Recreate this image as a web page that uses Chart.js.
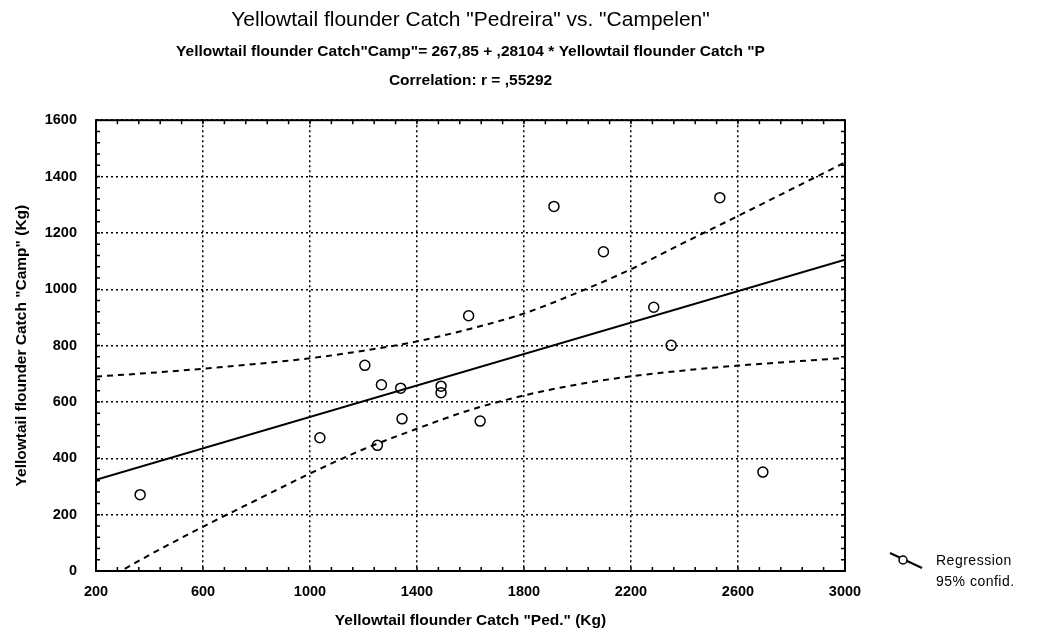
<!DOCTYPE html>
<html lang="en">
<head>
    <meta charset="UTF-8">
    <title>Yellowtail flounder Catch</title>
    <script src="https://cdn.jsdelivr.net/npm/chart.js"></script>
    <style>
        body { margin: 0; background: #fff; }
        #wrap { position: relative; width: 1039px; height: 639px; }
        #legend {
            position: absolute; left: 889px; top: 550px;
            font: 14px "Liberation Sans", Arial, sans-serif; color: #000;
            letter-spacing: 0.5px;
        }
        #legend svg { position: absolute; left: 0; top: 2px; }
        #legend div { margin-left: 47px; line-height: 21px; }
    </style>
</head>
<body>
<div id="wrap">
    <canvas id="chart" width="1039" height="639"></canvas>
    <div id="legend">
        <svg width="36" height="20"><line x1="1" y1="1" x2="33" y2="16" stroke="#000" stroke-width="2"/><circle cx="14" cy="8" r="4" fill="#fff" stroke="#000" stroke-width="1.5"/></svg>
        <div>Regression</div>
        <div>95% confid.</div>
    </div>
</div>
<script>
    // observed catches (kg)
    const pedCatch  = [365, 1037, 1205, 1267, 1339, 1344, 1252, 1490, 1490, 1636, 1593, 1912, 2097, 2532, 2285, 2350, 2693];
    const campCatch = [271, 473, 730, 661, 649, 540, 446, 656, 633, 532, 906, 1294, 1133, 1325, 936, 801, 351];

    // regression line ends
    const regX = [200, 3000];
    const regY = [324, 1105];

    // 95% confidence band
    const bandX     = [200, 400, 600, 800, 1000, 1200, 1400, 1600, 1800, 2000, 2200, 2400, 2600, 2800, 3000];
    const bandUpper = [690, 703, 718, 735, 755, 782, 815, 860, 914, 988, 1071, 1166, 1260, 1355, 1450];
    const bandLower = [-50, 57, 157, 252, 346, 432, 505, 572, 623, 662, 691, 712, 729, 743, 756];

    const xTicks = [200, 600, 1000, 1400, 1800, 2200, 2600, 3000];
    const yTicks = [0, 200, 400, 600, 800, 1000, 1200, 1400, 1600];

    const FONT = '"Liberation Sans", Arial, sans-serif';

    const pts = (xs, ys) => xs.map((x, i) => ({x: x, y: ys[i]}));

    // frame + small inward ticks
    const framePlugin = {
        id: 'frame',
        afterDraw(chart) {
            const {ctx, chartArea: a, scales: {x, y}} = chart;
            ctx.save();
            ctx.strokeStyle = '#000';
            ctx.lineWidth = 1.5;
            ctx.beginPath();
            for (let v = 200; v <= 3000; v += 80) {
                const px = x.getPixelForValue(v);
                ctx.moveTo(px, a.bottom); ctx.lineTo(px, a.bottom - 4);
                ctx.moveTo(px, a.top); ctx.lineTo(px, a.top + 4);
            }
            for (let v = 0; v <= 1600; v += 40) {
                const py = y.getPixelForValue(v);
                ctx.moveTo(a.left, py); ctx.lineTo(a.left + 4, py);
                ctx.moveTo(a.right, py); ctx.lineTo(a.right - 4, py);
            }
            ctx.stroke();
            ctx.lineWidth = 2;
            ctx.strokeRect(a.left, a.top, a.right - a.left, a.bottom - a.top);
            ctx.restore();
        }
    };

    const tickFont = { family: FONT, size: 14.5, weight: 'bold' };
    const axisTitleFont = { family: FONT, size: 15.5, weight: 'bold' };

    new Chart(document.getElementById('chart'), {
        type: 'scatter',
        data: {
            datasets: [
                {
                    label: 'Catch',
                    data: pts(pedCatch, campCatch),
                    pointRadius: 5,
                    pointBorderWidth: 1.5,
                    borderColor: '#000',
                    backgroundColor: 'rgba(0,0,0,0)',
                    order: 0
                },
                {
                    label: 'Regression',
                    data: pts(regX, regY),
                    showLine: true,
                    pointRadius: 0,
                    borderColor: '#000',
                    borderWidth: 2,
                    order: 1
                },
                {
                    label: 'Upper 95%',
                    data: pts(bandX, bandUpper),
                    showLine: true,
                    pointRadius: 0,
                    borderColor: '#000',
                    borderWidth: 2,
                    borderDash: [6, 5],
                    cubicInterpolationMode: 'monotone',
                    order: 2
                },
                {
                    label: 'Lower 95%',
                    data: pts(bandX, bandLower),
                    showLine: true,
                    pointRadius: 0,
                    borderColor: '#000',
                    borderWidth: 2,
                    borderDash: [6, 5],
                    cubicInterpolationMode: 'monotone',
                    order: 2
                }
            ]
        },
        options: {
            responsive: false,
            animation: false,
            layout: { padding: { left: 0, right: 194, top: 0, bottom: 0 } },
            plugins: {
                legend: { display: false },
                tooltip: { enabled: false },
                title: {
                    display: true,
                    fullSize: false,
                    text: 'Yellowtail flounder Catch "Pedreira" vs. "Campelen"',
                    color: '#000',
                    font: { family: FONT, size: 21, weight: 'normal' },
                    padding: { top: 8, bottom: 4 }
                },
                subtitle: {
                    display: true,
                    fullSize: false,
                    text: ['Yellowtail flounder Catch"Camp"= 267,85 + ,28104 * Yellowtail flounder Catch "P',
                           'Correlation: r = ,55292'],
                    color: '#000',
                    font: { family: FONT, size: 15.5, weight: 'bold', lineHeight: '29px' },
                    padding: { top: 0, bottom: 25 }
                }
            },
            scales: {
                x: {
                    type: 'linear',
                    min: 200, max: 3000,
                    afterBuildTicks: s => { s.ticks = xTicks.map(v => ({value: v})); },
                    afterFit: s => { s.height = 68; },
                    grid: { color: '#000', lineWidth: 1.5, drawTicks: false },
                    border: { display: false, dash: [2, 3] },
                    ticks: { color: '#000', padding: 12, maxRotation: 0, font: tickFont, callback: v => String(v) },
                    title: {
                        display: true,
                        text: 'Yellowtail flounder Catch "Ped." (Kg)',
                        color: '#000',
                        font: axisTitleFont,
                        padding: { top: 0, bottom: 9 }
                    }
                },
                y: {
                    type: 'linear',
                    min: 0, max: 1600,
                    afterBuildTicks: s => { s.ticks = yTicks.map(v => ({value: v})); },
                    afterFit: s => { s.width = 96; },
                    grid: { color: '#000', lineWidth: 1.5, drawTicks: false },
                    border: { display: false, dash: [2, 3] },
                    ticks: { color: '#000', padding: 19, font: tickFont, callback: v => String(v) },
                    title: {
                        display: true,
                        text: 'Yellowtail flounder Catch "Camp" (Kg)',
                        color: '#000',
                        font: axisTitleFont,
                        padding: { top: 12, bottom: 0 }
                    }
                }
            }
        },
        plugins: [framePlugin]
    });
</script>
</body>
</html>
